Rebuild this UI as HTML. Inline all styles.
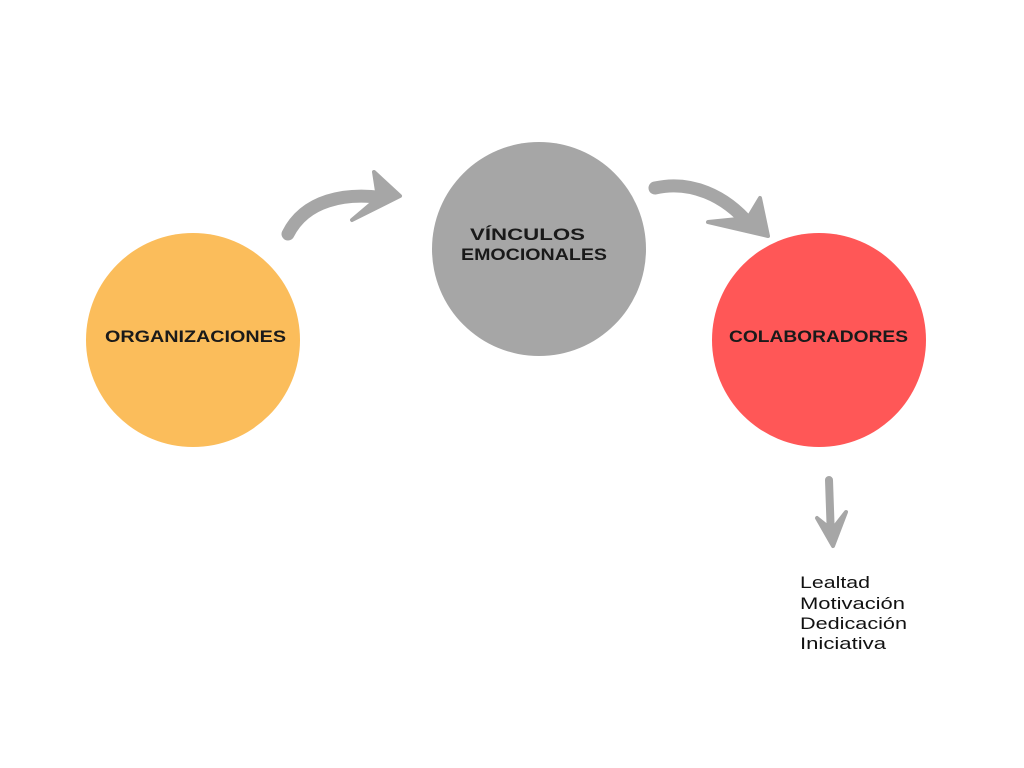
<!DOCTYPE html>
<html><head><meta charset="utf-8"><style>
html,body{margin:0;padding:0;background:#fff;}
svg{display:block}
text{font-family:"Liberation Sans",sans-serif;}
</style></head><body>
<svg width="1024" height="768" viewBox="0 0 1024 768" xmlns="http://www.w3.org/2000/svg">
<rect width="1024" height="768" fill="#fff"/>
<circle cx="193" cy="340" r="107" fill="#fbbd5b"/>
<circle cx="539" cy="249" r="107" fill="#a6a6a6"/>
<circle cx="819" cy="340" r="107" fill="#ff5757"/>
<text x="105" y="342" font-size="17" font-weight="bold" fill="#1a1a1a" textLength="181" lengthAdjust="spacingAndGlyphs">ORGANIZACIONES</text>
<text x="470" y="240" font-size="17" font-weight="bold" fill="#1a1a1a" textLength="115" lengthAdjust="spacingAndGlyphs">VÍNCULOS</text>
<text x="461" y="260" font-size="17" font-weight="bold" fill="#1a1a1a" textLength="146" lengthAdjust="spacingAndGlyphs">EMOCIONALES</text>
<text x="729" y="342" font-size="17" font-weight="bold" fill="#1a1a1a" textLength="179" lengthAdjust="spacingAndGlyphs">COLABORADORES</text>
<g fill="none" stroke="#a6a6a6" stroke-linecap="round" stroke-linejoin="round">
<path d="M288 234 C305 200 345 192 385 198" stroke-width="13"/>
<path d="M655 188 C690 180 725 195 750 225" stroke-width="13"/>
<path d="M829 480 L831 538" stroke-width="8"/>
</g>
<g fill="#a6a6a6" stroke="#a6a6a6" stroke-width="4" stroke-linejoin="round">
<polygon points="374,172 400,196 352,220 378,198"/>
<polygon points="760,198 768,236 708,222 748,218"/>
<polygon points="817,518 833,546 846,512 832,530"/>
</g>
<g font-size="17" fill="#111">
<text x="800" y="588" textLength="70" lengthAdjust="spacingAndGlyphs">Lealtad</text>
<text x="800" y="609" textLength="105" lengthAdjust="spacingAndGlyphs">Motivación</text>
<text x="800" y="629" textLength="107" lengthAdjust="spacingAndGlyphs">Dedicación</text>
<text x="800" y="649" textLength="86" lengthAdjust="spacingAndGlyphs">Iniciativa</text>
</g>
</svg>
</body></html>
